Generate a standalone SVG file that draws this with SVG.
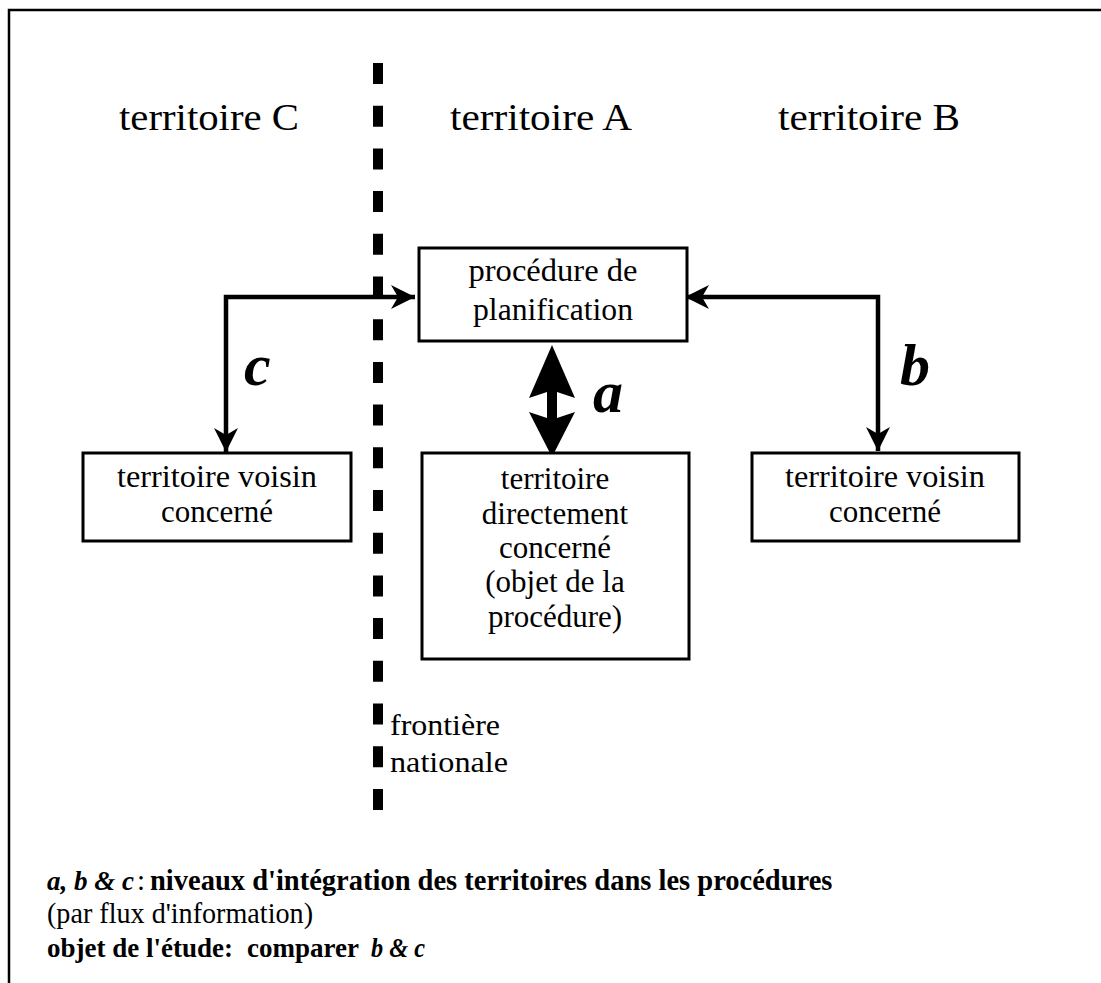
<svg xmlns="http://www.w3.org/2000/svg" width="1101" height="983" viewBox="0 0 1101 983">
<style>
.t{font-family:"Liberation Serif","Times New Roman",serif;fill:#000}
.box{fill:#fff;stroke:#000;stroke-width:3}
.conn{fill:none;stroke:#000;stroke-width:4.5}
.lbl{font-family:"Liberation Serif","Times New Roman",serif;font-weight:bold;font-style:italic;font-size:60px}
.b{font-weight:bold}
.i{font-style:italic}
</style>
<defs>
<marker id="ah" markerUnits="userSpaceOnUse" markerWidth="30" markerHeight="30" refX="0" refY="0" orient="auto-start-reverse" overflow="visible">
<path d="M0,0 L-24,-12 L-17,0 L-24,12 Z" fill="#000"/>
</marker>
</defs>
<rect width="1101" height="983" fill="#fff"/>
<rect x="9" y="10" width="1100" height="990" fill="none" stroke="#000" stroke-width="2.5"/>

<g id="border">
<line x1="378" y1="63" x2="378" y2="810" stroke="#000" stroke-width="10" stroke-dasharray="21 21.7"/>
<text class="t" x="390" y="735" font-size="30" textLength="110" lengthAdjust="spacingAndGlyphs">frontière</text>
<text class="t" x="390" y="772" font-size="30" textLength="118" lengthAdjust="spacingAndGlyphs">nationale</text>
</g>

<g id="titles" class="t" font-size="37" text-anchor="middle">
<text x="209" y="130" textLength="180" lengthAdjust="spacingAndGlyphs">territoire C</text>
<text x="541" y="130" textLength="182" lengthAdjust="spacingAndGlyphs">territoire A</text>
<text x="869" y="130" textLength="182" lengthAdjust="spacingAndGlyphs">territoire B</text>
</g>

<g id="connectors">
<path class="conn" d="M415,297 H226 V452" marker-start="url(#ah)" marker-end="url(#ah)"/>
<path class="conn" d="M685,297 H878 V451" marker-start="url(#ah)" marker-end="url(#ah)"/>
<polygon points="552,345 575,398 557,392 557,418 575,412 552,457 529,412 547,418 547,392 529,398" fill="#000"/>
<text class="lbl" x="593" y="412">a</text>
<text class="lbl" x="900" y="385">b</text>
<text class="lbl" x="244" y="385">c</text>
</g>

<g id="procedure">
<rect class="box" x="419" y="248" width="268" height="93"/>
<text class="t" font-size="31" text-anchor="middle" x="553" y="281" textLength="169" lengthAdjust="spacingAndGlyphs">procédure de</text>
<text class="t" font-size="31" text-anchor="middle" x="553" y="320" textLength="160" lengthAdjust="spacingAndGlyphs">planification</text>
</g>

<g id="territoireDirect">
<rect class="box" x="422" y="453" width="267" height="206"/>
<g class="t" font-size="31" text-anchor="middle">
<text x="555" y="489">territoire</text>
<text x="555" y="524">directement</text>
<text x="555" y="558">concerné</text>
<text x="555" y="592">(objet de la</text>
<text x="555" y="627">procédure)</text>
</g>
</g>

<g id="voisinC">
<rect class="box" x="83" y="453" width="268" height="88"/>
<text class="t" font-size="31" text-anchor="middle" x="217" y="487" textLength="200" lengthAdjust="spacingAndGlyphs">territoire voisin</text>
<text class="t" font-size="31" text-anchor="middle" x="217" y="522">concerné</text>
</g>

<g id="voisinB">
<rect class="box" x="752" y="453" width="267" height="88"/>
<text class="t" font-size="31" text-anchor="middle" x="885" y="487" textLength="200" lengthAdjust="spacingAndGlyphs">territoire voisin</text>
<text class="t" font-size="31" text-anchor="middle" x="885" y="522">concerné</text>
</g>

<g id="legend" class="t" font-size="29">
<text class="b i" x="47" y="890" font-size="27">a, b &amp; c</text>
<text x="137" y="890">:</text>
<text class="b" x="150" y="890" font-size="28.5">niveaux d'intégration des territoires dans les procédures</text>
<text x="47" y="923" textLength="266" lengthAdjust="spacingAndGlyphs">(par flux d'information)</text>
<text class="b" x="47" y="957" font-size="27">objet de l'étude:</text>
<text class="b" x="247" y="957" font-size="27">comparer</text>
<text class="b i" x="371" y="957" font-size="27" textLength="54" lengthAdjust="spacingAndGlyphs">b &amp; c</text>
</g>
</svg>
